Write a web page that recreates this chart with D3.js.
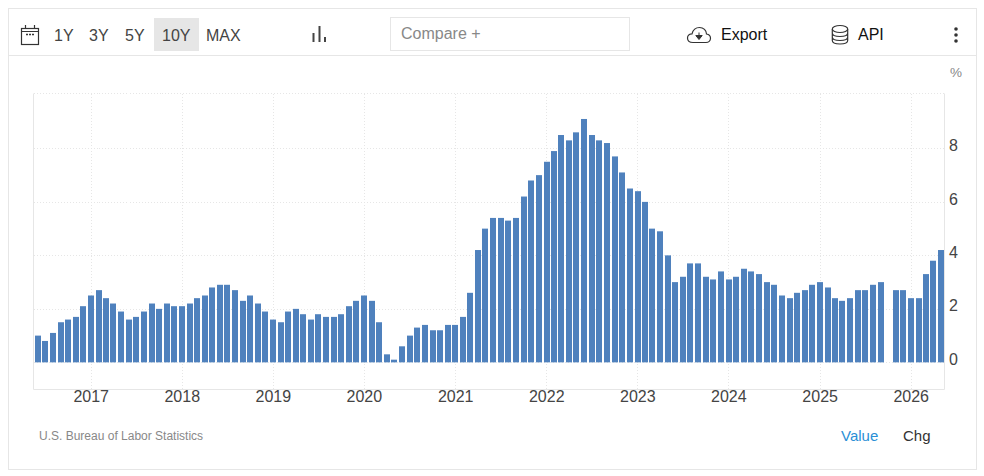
<!DOCTYPE html>
<html>
<head>
<meta charset="utf-8">
<title>Inflation rate</title>
<script src="https://cdn.jsdelivr.net/npm/d3@7"></script>
<style>
  html, body { margin: 0; padding: 0; background: #fff; }
  svg { display: block; font-family: "Liberation Sans", Arial, sans-serif; }
  .grid line { stroke: #e6e6e6; stroke-dasharray: 1 2; shape-rendering: crispEdges; }
  .axis path { display: none; }
  .axis line { display: none; }
  .axis text { font-size: 16px; fill: #444; font-family: "Liberation Sans", Arial, sans-serif; }
  .btn { font-size: 16px; fill: #444; }
  .icon { fill: none; stroke: #333; stroke-width: 1.2; }
</style>
</head>
<body>
<div id="chart"></div>
<script>
// first month of the series is June 2016, one bar per month
var startYear = 2016, startMonth = 5;

var values = [
  1.0, 0.8, 1.1, 1.5, 1.6, 1.7, 2.1,
  2.5, 2.7, 2.4, 2.2, 1.9, 1.6, 1.7, 1.9, 2.2, 2.0, 2.2, 2.1,
  2.1, 2.2, 2.4, 2.5, 2.8, 2.9, 2.9, 2.7, 2.3, 2.5, 2.2, 1.9,
  1.6, 1.5, 1.9, 2.0, 1.8, 1.6, 1.8, 1.7, 1.7, 1.8, 2.1, 2.3,
  2.5, 2.3, 1.5, 0.3, 0.1, 0.6, 1.0, 1.3, 1.4, 1.2, 1.2, 1.4,
  1.4, 1.7, 2.6, 4.2, 5.0, 5.4, 5.4, 5.3, 5.4, 6.2, 6.8, 7.0,
  7.5, 7.9, 8.5, 8.3, 8.6, 9.1, 8.5, 8.3, 8.2, 7.7, 7.1, 6.5,
  6.4, 6.0, 5.0, 4.9, 4.0, 3.0, 3.2, 3.7, 3.7, 3.2, 3.1, 3.4,
  3.1, 3.2, 3.5, 3.4, 3.3, 3.0, 2.9, 2.5, 2.4, 2.6, 2.7, 2.9,
  3.0, 2.8, 2.4, 2.3, 2.4, 2.7, 2.7, 2.9, 3.0, null, 2.7, 2.7,
  2.4, 2.4, 3.3, 3.8, 4.2
];
var yearTicks = [2017, 2018, 2019, 2020, 2021, 2022, 2023, 2024, 2025, 2026];
var valueTicks = [0, 2, 4, 6, 8];
var rangeButtons = ['1Y', '3Y', '5Y', '10Y', 'MAX'];
var rangeButtonX = [54, 89, 125, 162, 206];

var width = 984, height = 476;

var svg = d3.select('#chart').append('svg')
  .attr('width', width)
  .attr('height', height)
  .attr('viewBox', '0 0 ' + width + ' ' + height);

// scales, pinned on two year ticks
var x = d3.scaleUtc()
  .domain([new Date(Date.UTC(2017, 0, 1)), new Date(Date.UTC(2026, 0, 1))])
  .range([90.7, 910.7]);
var y = d3.scaleLinear()
  .domain([-1, 10])
  .range([389.1, 94.9]);

var data = values.map(function(v, i) {
  return {date: new Date(Date.UTC(startYear, startMonth + i, 1)), value: v};
});

// outer frame and toolbar separator
svg.append('rect').attr('x', 8.5).attr('y', 8.5).attr('width', 968).attr('height', 461)
  .attr('fill', 'none').attr('stroke', '#e6e6e6');
svg.append('line').attr('x1', 9).attr('x2', 976).attr('y1', 55.5).attr('y2', 55.5)
  .attr('stroke', '#e6e6e6');

// grid
var plotLeft = 33.5, plotRight = 944.5, plotTop = 93.5, plotBottom = 389.5;
var grid = svg.append('g').attr('class', 'grid');
grid.selectAll('.gy').data(valueTicks.concat([10])).enter().append('line')
  .attr('x1', plotLeft).attr('x2', plotRight)
  .attr('y1', function(d) { return d == 10 ? plotTop : Math.round(y(d)) + 0.5; })
  .attr('y2', function(d) { return d == 10 ? plotTop : Math.round(y(d)) + 0.5; });
grid.selectAll('.gx').data(yearTicks).enter().append('line')
  .attr('y1', plotTop).attr('y2', plotBottom)
  .attr('x1', function(d) { return Math.round(x(new Date(Date.UTC(d, 0, 1)))) + 0.5; })
  .attr('x2', function(d) { return Math.round(x(new Date(Date.UTC(d, 0, 1)))) + 0.5; });

// plot border
svg.append('path')
  .attr('d', 'M' + plotLeft + ',' + plotTop + 'V' + plotBottom + 'H' + plotRight + 'V' + plotTop)
  .attr('fill', 'none').attr('stroke', '#e6e6e6');

// bars
svg.selectAll('.bar')
  .data(data.filter(function(d) { return d.value !== null; }))
  .enter().append('rect')
  .attr('class', 'bar')
  .attr('x', function(d) { return Math.round(x(d.date) - 3 + 0.3); })
  .attr('width', 6)
  .attr('y', function(d) { return y(d.value); })
  .attr('height', function(d) { return y(0) - y(d.value); })
  .attr('fill', '#4f81bd');

// axes
svg.append('g')
  .attr('class', 'axis')
  .attr('transform', 'translate(0,' + 389 + ')')
  .call(d3.axisBottom(x)
    .tickValues(yearTicks.map(function(d) { return new Date(Date.UTC(d, 0, 1)); }))
    .tickFormat(d3.utcFormat('%Y'))
    .tickSize(0).tickPadding(2))
  .selectAll('text').attr('dy', '0.71em');

svg.append('g')
  .attr('class', 'axis')
  .attr('transform', 'translate(949,-3)')
  .call(d3.axisRight(y).tickValues(valueTicks).tickSize(0).tickPadding(0))
  .selectAll('text').attr('x', 0);

svg.append('text').attr('x', 950).attr('y', 77)
  .attr('font-size', 13.5).attr('fill', '#888').text('%');

// toolbar
svg.append('rect').attr('x', 154).attr('y', 18).attr('width', 45).attr('height', 33).attr('fill', '#e6e6e6');
svg.selectAll('.btn').data(rangeButtons).enter().append('text')
  .attr('class', 'btn')
  .attr('x', function(d, i) { return rangeButtonX[i]; })
  .attr('y', 41)
  .text(function(d) { return d; });

// calendar icon
var cal = svg.append('g').attr('class', 'icon');
cal.append('rect').attr('x', 21.5).attr('y', 28.5).attr('width', 17).attr('height', 16);
cal.append('path').attr('d', 'M21.5,31.5H38.5M25.5,25V28M34.5,25V28');
cal.append('path').attr('d', 'M26,34.5h2M29,34.5h2M32,34.5h2').attr('stroke-width', 1.4);

// bar type icon
svg.append('path')
  .attr('d', 'M313.5,33V42M319.5,26V42M325,37V42')
  .attr('fill', 'none').attr('stroke', '#444').attr('stroke-width', 2);

// compare box
svg.append('rect').attr('x', 390.5).attr('y', 17.5).attr('width', 239).attr('height', 33)
  .attr('fill', '#fff').attr('stroke', '#e6e6e6');
svg.append('text').attr('x', 401).attr('y', 39).attr('font-size', 16).attr('fill', '#888').text('Compare +');

// export
var cloud = svg.append('g');
cloud.append('path')
  .attr('d', 'M693,42.5C689.5,42.5 687.5,40.5 687.5,38C687.5,35.5 689.5,33.8 692,33.8C693,30 696,27.5 699.5,27.5C703.5,27.5 706.5,30.5 706.5,34C709,34.3 710.5,36 710.5,38.3C710.5,40.8 708.5,42.5 706,42.5Z')
  .attr('fill', 'none').attr('stroke', '#333').attr('stroke-width', 1.2);
cloud.append('path').attr('d', 'M699,32.5V37M695.8,35.5L699,39.5L702.2,35.5Z')
  .attr('fill', '#333').attr('stroke', '#333').attr('stroke-width', 1);
svg.append('text').attr('x', 721).attr('y', 40).attr('font-size', 16).attr('fill', '#111').text('Export');

// api
var db = svg.append('g').attr('class', 'icon').attr('stroke-width', 1.3);
db.append('ellipse').attr('cx', 840).attr('cy', 29).attr('rx', 7.7).attr('ry', 3.5);
db.append('path').attr('d', 'M832.3,29V40.5C832.3,42.5 835.5,44 840,44C844.5,44 847.7,42.5 847.7,40.5V29M832.3,33C832.3,35 835.5,36.5 840,36.5C844.5,36.5 847.7,35 847.7,33M832.3,37C832.3,39 835.5,40.5 840,40.5C844.5,40.5 847.7,39 847.7,37');
svg.append('text').attr('x', 858).attr('y', 40).attr('font-size', 16).attr('fill', '#111').text('API');

// menu dots
svg.selectAll('.dot').data([29, 35, 41]).enter().append('circle')
  .attr('cx', 956).attr('cy', function(d) { return d; }).attr('r', 1.8).attr('fill', '#333');

// footer
svg.append('text').attr('x', 39).attr('y', 440).attr('font-size', 12).attr('fill', '#888')
  .text('U.S. Bureau of Labor Statistics');
svg.append('text').attr('x', 841).attr('y', 441).attr('font-size', 15).attr('fill', '#2a8fd6').text('Value');
svg.append('text').attr('x', 903).attr('y', 441).attr('font-size', 15).attr('fill', '#333').text('Chg');
</script>
</body>
</html>
